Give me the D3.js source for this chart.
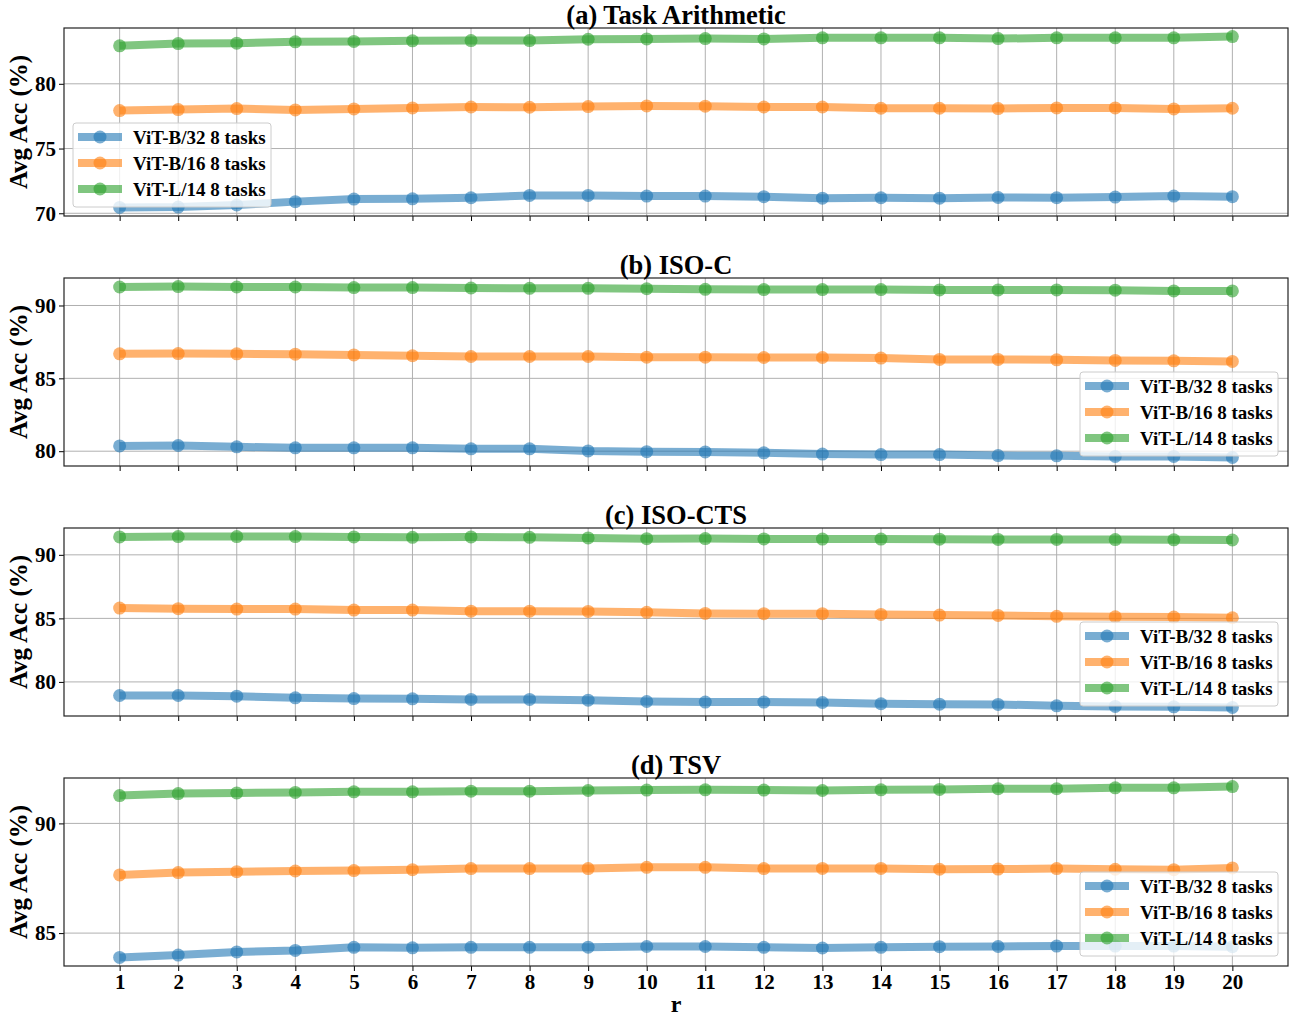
<!DOCTYPE html>
<html><head><meta charset="utf-8">
<script src="https://cdn.jsdelivr.net/npm/d3@7"></script>
<style>body{margin:0;background:#fff;} svg{display:block;font-family:"Liberation Serif","Times New Roman",serif;}</style>
</head><body>
<script>
const rValues = d3.range(1, 21);
const seriesNames = ["ViT-B/32 8 tasks", "ViT-B/16 8 tasks", "ViT-L/14 8 tasks"];
const seriesColors = ["#1f77b4", "#ff7f0e", "#2ca02c"];
const panelTitles = ["(a) Task Arithmetic", "(b) ISO-C", "(c) ISO-CTS", "(d) TSV"];
const yTicksPerPanel = [[70, 75, 80], [80, 85, 90], [80, 85, 90], [85, 90]];
const legendCorner = ["left", "right", "right", "right"];

// (a) Task Arithmetic
const taB32 = [70.45,70.48,70.64,70.9,71.1,71.12,71.2,71.38,71.38,71.33,71.33,71.28,71.17,71.2,71.17,71.22,71.2,71.25,71.33,71.28];
const taB16 = [77.93,78.01,78.09,77.98,78.06,78.14,78.21,78.19,78.24,78.29,78.27,78.21,78.21,78.11,78.11,78.09,78.14,78.14,78.06,78.11];
const taL14 = [82.93,83.11,83.14,83.24,83.27,83.32,83.34,83.34,83.44,83.47,83.49,83.47,83.55,83.55,83.55,83.49,83.55,83.55,83.55,83.65];
// (b) ISO-C
const isocB32 = [80.36,80.39,80.3,80.23,80.23,80.23,80.16,80.16,80.02,79.97,79.95,79.89,79.8,79.77,79.77,79.7,79.68,79.64,79.64,79.57];
const isocB16 = [86.68,86.7,86.68,86.66,86.61,86.55,86.5,86.5,86.5,86.45,86.45,86.43,86.43,86.39,86.3,86.3,86.27,86.23,86.2,86.16];
const isocL14 = [91.27,91.3,91.27,91.27,91.23,91.23,91.2,91.18,91.18,91.15,91.11,91.09,91.09,91.09,91.07,91.07,91.07,91.05,91.0,91.0];
// (c) ISO-CTS
const isoctsB32 = [78.93,78.93,78.88,78.75,78.69,78.67,78.62,78.62,78.56,78.46,78.41,78.41,78.38,78.28,78.25,78.23,78.12,78.07,78.04,77.99];
const isoctsB16 = [85.81,85.76,85.73,85.73,85.65,85.65,85.57,85.57,85.55,85.48,85.39,85.37,85.37,85.31,85.26,85.23,85.16,85.13,85.1,85.05];
const isoctsL14 = [91.41,91.44,91.44,91.44,91.41,91.38,91.41,91.38,91.33,91.27,91.28,91.25,91.24,91.24,91.23,91.21,91.21,91.2,91.18,91.17];
// (d) TSV
const tsvB32 = [83.89,84.0,84.14,84.21,84.35,84.33,84.35,84.35,84.36,84.39,84.39,84.35,84.32,84.35,84.38,84.39,84.41,84.41,84.41,84.38];
const tsvB16 = [87.65,87.76,87.8,87.83,87.85,87.89,87.94,87.94,87.94,88.0,88.0,87.94,87.95,87.95,87.91,87.92,87.94,87.91,87.89,87.97];
const tsvL14 = [91.27,91.36,91.39,91.41,91.44,91.44,91.47,91.47,91.5,91.52,91.53,91.52,91.5,91.53,91.55,91.58,91.58,91.62,91.62,91.68];

const panels = [
  [taB32, taB16, taL14],
  [isocB32, isocB16, isocL14],
  [isoctsB32, isoctsB16, isoctsL14],
  [tsvB32, tsvB16, tsvL14]
];

const W = 1292, H = 1016;
const left = 64, right = 1288, panelH = 188, firstTop = 28, gap = 250;
const svg = d3.select("body").append("svg").attr("width", W).attr("height", H);

const x = d3.scaleLinear().domain([0.05, 20.95]).range([left, right]);
const font = "Liberation Serif";

panels.forEach((series, pi) => {
  const top = firstTop + pi * gap, bottom = top + panelH;
  const all = series.flat();
  const mn = d3.min(all), mx = d3.max(all), rg = mx - mn;
  const y = d3.scaleLinear().domain([mn - 0.05 * rg, mx + 0.05 * rg]).range([bottom, top]);
  const g = svg.append("g");

  // grid
  g.append("g").selectAll("line").data(rValues).join("line")
    .attr("x1", d => x(d)).attr("x2", d => x(d)).attr("y1", top).attr("y2", bottom)
    .attr("stroke", "#b0b0b0").attr("stroke-width", 1);
  g.append("g").selectAll("line").data(yTicksPerPanel[pi]).join("line")
    .attr("x1", left).attr("x2", right).attr("y1", d => y(d)).attr("y2", d => y(d))
    .attr("stroke", "#b0b0b0").attr("stroke-width", 1);

  // series
  series.forEach((vals, si) => {
    const pts = vals.map((v, i) => [rValues[i], v]);
    const line = d3.line().x(d => x(d[0])).y(d => y(d[1]));
    g.append("path").datum(pts).attr("d", line).attr("fill", "none")
      .attr("stroke", seriesColors[si]).attr("stroke-width", 8).attr("stroke-opacity", 0.6)
      .attr("stroke-linejoin", "round");
    g.append("g").selectAll("circle").data(pts).join("circle")
      .attr("cx", d => x(d[0])).attr("cy", d => y(d[1])).attr("r", 6.5)
      .attr("fill", seriesColors[si]).attr("fill-opacity", 0.6);
  });

  // axes
  const xAxis = d3.axisBottom(x).tickValues(rValues).tickSize(5).tickPadding(3)
    .tickFormat(pi === panels.length - 1 ? d3.format("d") : () => "");
  const xa = g.append("g").attr("transform", `translate(0,${bottom})`).call(xAxis);
  xa.select(".domain").remove();
  xa.selectAll(".tick line").attr("stroke", "#000").attr("stroke-width", 1);
  xa.selectAll("text").attr("font-family", font).attr("font-weight", "bold").attr("font-size", 21).attr("fill", "#000");

  const yAxis = d3.axisLeft(y).tickValues(yTicksPerPanel[pi]).tickSize(5).tickPadding(3).tickFormat(d3.format("d"));
  const ya = g.append("g").attr("transform", `translate(${left},0)`).call(yAxis);
  ya.select(".domain").remove();
  ya.selectAll(".tick line").attr("stroke", "#000").attr("stroke-width", 1);
  ya.selectAll("text").attr("font-family", font).attr("font-weight", "bold").attr("font-size", 21).attr("fill", "#000");

  // frame
  g.append("rect").attr("x", left).attr("y", top).attr("width", right - left).attr("height", panelH)
    .attr("fill", "none").attr("stroke", "#222").attr("stroke-width", 1.2);

  // title
  g.append("text").attr("x", (left + right) / 2).attr("y", top - 4.5).attr("text-anchor", "middle")
    .attr("font-family", font).attr("font-weight", "bold").attr("font-size", 26.5).text(panelTitles[pi]);

  // y label
  g.append("text").attr("transform", `translate(27,${(top + bottom) / 2}) rotate(-90)`)
    .attr("text-anchor", "middle").attr("font-family", font).attr("font-weight", "bold")
    .attr("font-size", 25).text("Avg Acc (%)");

  // legend
  const lw = 198, lh = 84;
  const lx = legendCorner[pi] === "left" ? 73 : right - 10 - lw;
  const ly = legendCorner[pi] === "left" ? 123 : bottom - 10 - lh;
  const lg = g.append("g").attr("transform", `translate(${lx},${ly})`);
  lg.append("rect").attr("width", lw).attr("height", lh).attr("rx", 3)
    .attr("fill", "#fff").attr("fill-opacity", 0.8).attr("stroke", "#ccc").attr("stroke-width", 1);
  seriesNames.forEach((nm, si) => {
    const yy = 14 + si * 26;
    lg.append("line").attr("x1", 5).attr("x2", 49).attr("y1", yy).attr("y2", yy)
      .attr("stroke", seriesColors[si]).attr("stroke-width", 8).attr("stroke-opacity", 0.6);
    lg.append("circle").attr("cx", 27).attr("cy", yy).attr("r", 6.5)
      .attr("fill", seriesColors[si]).attr("fill-opacity", 0.6);
    lg.append("text").attr("x", 60).attr("y", yy + 6.5).attr("font-family", font)
      .attr("font-weight", "bold").attr("font-size", 19).text(nm);
  });
});

// x label
svg.append("text").attr("x", (left + right) / 2).attr("y", 1012).attr("text-anchor", "middle")
  .attr("font-family", font).attr("font-weight", "bold").attr("font-size", 24).text("r");
</script>
</body></html>
